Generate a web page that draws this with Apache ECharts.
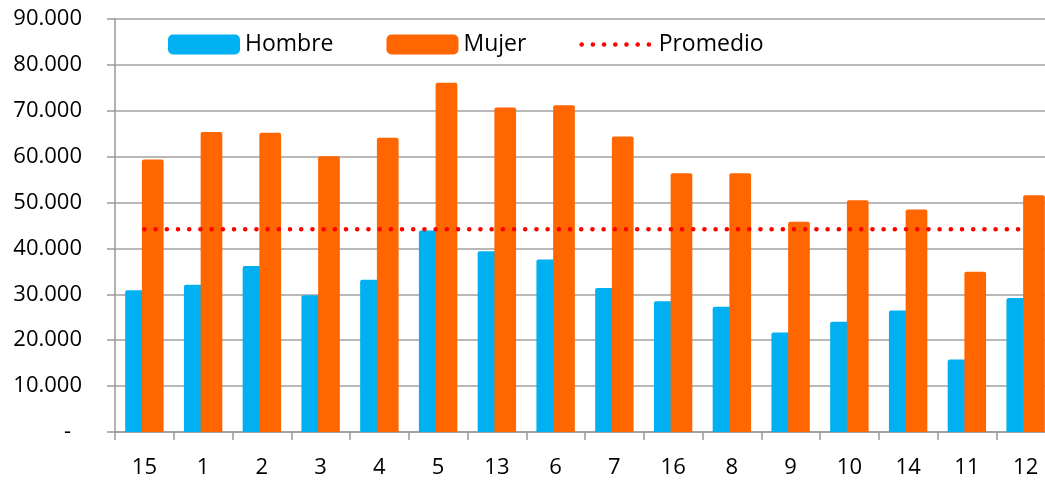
<!DOCTYPE html>
<html>
<head>
<meta charset="utf-8">
<script src="https://cdn.jsdelivr.net/npm/echarts@6/dist/echarts.min.js"></script>
<style>
html,body{margin:0;padding:0;background:#fff}
#chart{width:1045px;height:481px}
</style>
</head>
<body>
<div id="chart"></div>
<script>
// values
const categories=['15','1','2','3','4','5','13','6','7','16','8','9','10','14','11','12']
const hombre=[30900,32100,36200,29800,33200,43900,39400,37600,31400,28500,27300,21700,24000,26500,15800,29200]
const mujer=[59400,65400,65200,60100,64100,76100,70700,71200,64400,56400,56400,45800,50500,48500,34900,51600]
const promedio=44200
const yTicks={min:0,max:90000,interval:10000}

const font='"Open Sans", "Noto Sans", sans-serif'
const fmt=v=>v===0?'{z|-}':String(v).replace(/\B(?=(\d{3})+(?!\d))/g,'.')
const dotStyle={color:'#ff0000',width:4.5,type:[0.1,11.1],cap:'round'}

const chart=echarts.init(document.getElementById('chart'))
chart.setOption({
	animation:false,
	textStyle:{fontFamily:font},
	// plot area runs past the right edge of the picture, like the reference
	grid:{left:115,top:19,height:413,width:940,outerBoundsMode:'none',containLabel:false},
	legend:{
		left:168,
		top:33,
		padding:0,
		itemWidth:72,
		itemHeight:20,
		itemGap:53,
		textStyle:{fontFamily:font,fontSize:23,color:'#000'},
		data:['Hombre','Mujer',{name:'Promedio',itemStyle:{opacity:0},lineStyle:dotStyle}]
	},
	xAxis:{
		type:'category',
		data:categories,
		axisLine:{lineStyle:{color:'#999',width:1.5}},
		axisTick:{show:true,length:8,lineStyle:{color:'#999',width:1.5}},
		axisLabel:{color:'#000',fontSize:22,margin:25,fontFamily:font}
	},
	yAxis:{
		type:'value',
		min:yTicks.min,
		max:yTicks.max,
		interval:yTicks.interval,
		axisLine:{show:true,lineStyle:{color:'#999',width:1.5}},
		axisTick:{show:true,length:8,lineStyle:{color:'#999',width:1.5}},
		splitLine:{lineStyle:{color:'#a0a0a0',width:1.5}},
		axisLabel:{
			color:'#000',fontSize:22,margin:33,fontFamily:font,
			formatter:fmt,
			rich:{z:{fontSize:22,fontFamily:font,color:'#000',padding:[0,11,0,0]}}
		}
	},
	series:[
		{
			name:'Hombre',
			type:'bar',
			data:hombre,
			barWidth:21.7,
			barGap:'-23%',
			itemStyle:{color:'#00b0f0',borderRadius:[2,2,0,0]}
		},
		{
			name:'Mujer',
			type:'bar',
			data:mujer,
			barWidth:21.7,
			itemStyle:{color:'#ff6600',borderRadius:[2,2,0,0]}
		},
		{
			name:'Promedio',
			type:'line',
			data:categories.map(()=>promedio),
			symbol:'none',
			z:5,
			itemStyle:{color:'#ff0000'},
			lineStyle:dotStyle
		}
	]
})
</script>
</body>
</html>
